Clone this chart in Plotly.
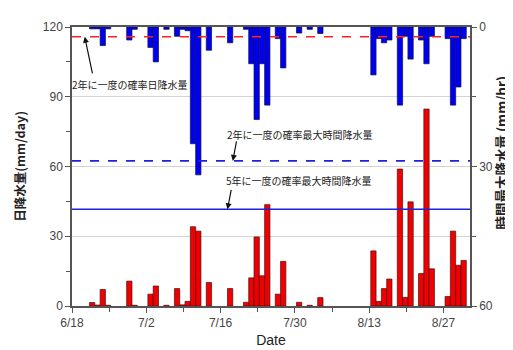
import plotly.graph_objects as go

# day offsets from 6/18
days = [3, 4, 5, 6, 10, 11, 14, 15, 17, 19, 20, 21, 22, 23, 25, 29, 32, 33, 34, 35,
        36, 38, 39, 42, 44, 46, 56, 57, 58, 59, 61, 62, 63, 65, 66, 67, 70, 71, 72, 73]
# daily precipitation (mm/day), left axis
daily = [1.5, 0.4, 7.1, 0.3, 10.7, 0.3, 5.1, 8.6, 0.3, 7.5, 0.5, 2.0, 34.1, 32.2, 10.1,
         7.5, 1.6, 12.1, 29.7, 13.0, 43.6, 5.1, 19.2, 1.6, 0.3, 3.6, 23.7, 2.0, 7.5, 11.6,
         58.9, 3.7, 44.8, 14.0, 84.7, 16.0, 4.1, 32.2, 17.5, 19.6]
# max hourly precipitation (mm/hr), right axis (reversed)
hourly = [0.4, 0.4, 4.0, 0.4, 2.8, 0.5, 4.4, 7.5, 0.5, 2.0, 0.5, 0.8, 25.1, 31.8, 5.0,
          3.4, 0.5, 7.9, 19.9, 7.9, 16.8, 2.5, 8.8, 1.3, 0.5, 1.4, 10.3, 2.5, 3.4, 2.8,
          16.8, 2.0, 6.9, 2.8, 7.9, 2.0, 2.5, 16.8, 12.9, 2.5]

tick_days = [0, 14, 28, 42, 56, 70]
tick_labels = ["6/18", "7/2", "7/16", "7/30", "8/13", "8/27"]
minor_days = [7, 21, 35, 49, 63]

daily_2yr = 115.8      # mm/day
hourly_2yr = 28.8      # mm/hr
hourly_5yr = 39.2      # mm/hr

label_daily_2yr = "2年に一度の確率日降水量"
label_hourly_2yr = "2年に一度の確率最大時間降水量"
label_hourly_5yr = "5年に一度の確率最大時間降水量"

FONT = "Liberation Sans, Arial, Noto Sans CJK JP, sans-serif"
CJK = "Noto Sans CJK JP, sans-serif"

fig = go.Figure()
fig.add_trace(go.Bar(x=days, y=hourly, yaxis="y2", width=1, offset=0.3,
                     marker=dict(color="#0000f0", line=dict(color="#10104a", width=0.7)),
                     showlegend=False))
fig.add_trace(go.Bar(x=days, y=daily, yaxis="y", width=1, offset=0.3,
                     marker=dict(color="#f00000", line=dict(color="#4a1010", width=0.7)),
                     showlegend=False))

axis_common = dict(showline=True, linecolor="#555", linewidth=1.5, zeroline=False,
                   ticks="outside", ticklen=5, tickcolor="#555",
                   tickfont=dict(family=FONT, size=12, color="#444"))

fig.update_layout(
    width=513, height=350,
    margin=dict(l=62, r=51, t=13, b=45),
    paper_bgcolor="white", plot_bgcolor="white",
    barmode="overlay",
    xaxis=dict(range=[0, 75], tickmode="array", tickvals=tick_days, ticktext=tick_labels,
               mirror=True, showgrid=False,
               minor=dict(tickmode="array", tickvals=minor_days, ticks="outside",
                          ticklen=4, tickcolor="#555"),
               title=dict(text="Date", font=dict(family=FONT, size=14, color="#222"),
                          standoff=6),
               **axis_common),
    yaxis=dict(range=[0, 120], tickmode="array", tickvals=[0, 30, 60, 90, 120],
               showgrid=True, gridcolor="#d4d4d4", gridwidth=1,
               minor=dict(tickmode="array", tickvals=[15, 45, 75, 105], ticks="outside",
                          ticklen=4, tickcolor="#555", showgrid=False),
               title=dict(text="<b>日降水量(mm/day)</b>",
                          font=dict(family=CJK, size=12.5, color="#222"), standoff=14),
               **axis_common),
    yaxis2=dict(range=[60, 0], overlaying="y", side="right", tickmode="array",
                tickvals=[0, 30, 60], showgrid=False,
                minor=dict(tickmode="array", tickvals=[15, 45], ticks="outside",
                           ticklen=4, tickcolor="#555"),
                **axis_common),
)

# right axis title as rotated annotation
fig.add_annotation(xref="paper", yref="paper", x=1, y=0.55, xshift=43,
                   text="<b>時間最大降水量 (mm/hr)</b>", textangle=-90, showarrow=False,
                   font=dict(family=CJK, size=13.5, color="#222"))

fig.add_shape(type="line", xref="paper", x0=0, x1=1, yref="y", y0=daily_2yr, y1=daily_2yr,
              line=dict(color="#ff2020", width=1.6, dash="dash"), layer="above")
fig.add_shape(type="line", xref="paper", x0=0, x1=1, yref="y2", y0=hourly_2yr, y1=hourly_2yr,
              line=dict(color="#2020e0", width=1.6, dash="dash"), layer="above")
fig.add_shape(type="line", xref="paper", x0=0, x1=1, yref="y2", y0=hourly_5yr, y1=hourly_5yr,
              line=dict(color="#2020e0", width=1.4), layer="above")

tfont = dict(family=CJK, size=10, color="#222")
# text labels
fig.add_annotation(x=11.0, y=95.4, xref="x", yref="y", text=label_daily_2yr,
                   showarrow=False, font=tfont)
fig.add_annotation(x=42.9, y=73.6, xref="x", yref="y", text=label_hourly_2yr,
                   showarrow=False, font=tfont)
fig.add_annotation(x=42.8, y=53.8, xref="x", yref="y", text=label_hourly_5yr,
                   showarrow=False, font=tfont)
# arrows
arrow = dict(showarrow=True, text="", arrowhead=2, arrowsize=1, arrowwidth=1.2,
             arrowcolor="#111")
fig.add_annotation(x=2.4, y=daily_2yr, xref="x", yref="y", ax=8, ay=38, **arrow)
fig.add_annotation(x=30.3, y=hourly_2yr, xref="x", yref="y2", ax=4, ay=-21, **arrow)
fig.add_annotation(x=29.3, y=hourly_5yr, xref="x", yref="y2", ax=4, ay=-21, **arrow)

fig.write_html("out.html")
